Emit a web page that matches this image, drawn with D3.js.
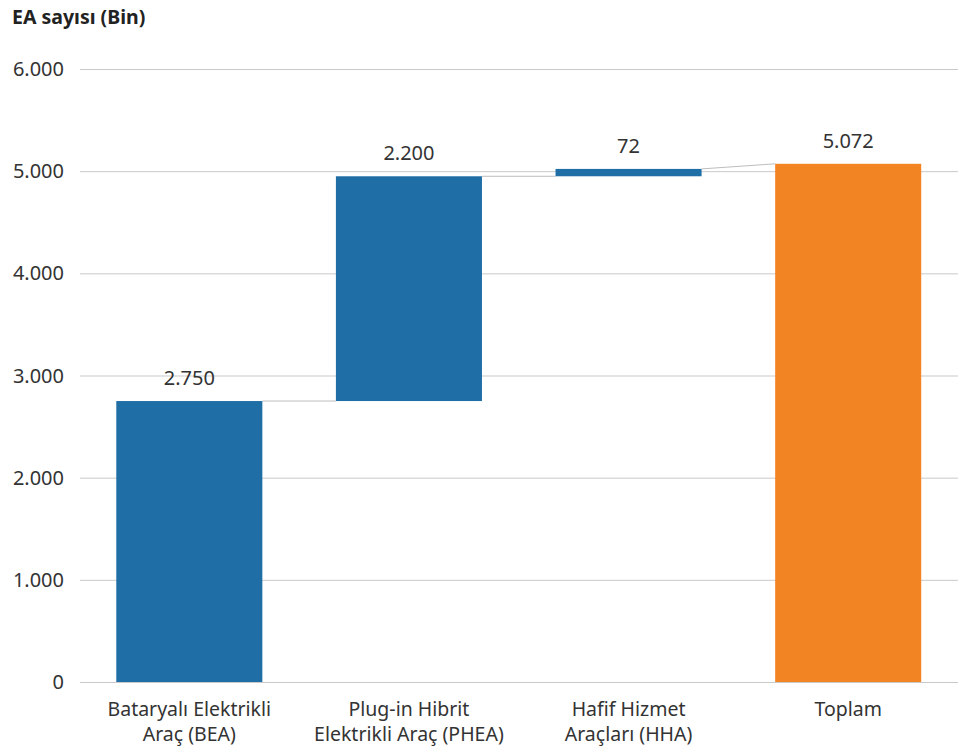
<!DOCTYPE html>
<html><head><meta charset="utf-8">
<script src="https://cdn.jsdelivr.net/npm/d3@7"></script>
<style>body{margin:0;background:#fff}svg{display:block}text{font-family:"Noto Sans","Open Sans",sans-serif}</style>
</head><body><svg id="c" width="963" height="751"></svg>
<script>
const categories = ["Bataryalı Elektrikli\nAraç (BEA)", "Plug-in Hibrit\nElektrikli Araç (PHEA)", "Hafif Hizmet\nAraçları (HHA)", "Toplam"];
const values = [2750, 2200, 72, 5072];
const starts = [0, 2750, 4950, 0];
const ends = [2750, 4950, 5022, 5072];
const isTotal = [false, false, false, true];
const valueLabels = ["2.750", "2.200", "72", "5.072"];
const yTicks = [0, 1000, 2000, 3000, 4000, 5000, 6000];
const tickLabels = ["0", "1.000", "2.000", "3.000", "4.000", "5.000", "6.000"];

const svg = d3.select("#c");
const x = d3.scaleBand().domain(categories).range([79.5, 958]).paddingInner(0.335).paddingOuter(0.1675);
const y = d3.scaleLinear().domain([0, 6000]).range([682, 69]);

svg.append("text").attr("x", 12).attr("y", 24).attr("font-size", 19.5).attr("font-weight", 700).attr("fill", "#222").text("EA sayısı (Bin)");

const g = svg.append("g");
g.selectAll("line.grid").data(yTicks).join("line")
  .attr("x1", 80).attr("x2", 958).attr("y1", d => y(d) + 0.5).attr("y2", d => y(d) + 0.5)
  .attr("stroke", "#c9c9c9").attr("stroke-width", 1);
g.selectAll("text.tick").data(yTicks).join("text")
  .attr("x", 64).attr("y", d => y(d)).attr("dy", "0.35em").attr("text-anchor", "end")
  .attr("font-size", 20).attr("fill", "#333").text((d, i) => tickLabels[i]);

// connectors
for (let i = 0; i < categories.length - 1; i++) {
  g.append("line")
    .attr("x1", x(categories[i]) + x.bandwidth()).attr("x2", x(categories[i + 1]))
    .attr("y1", y(ends[i])).attr("y2", y(isTotal[i + 1] ? ends[i + 1] : starts[i + 1]))
    .attr("stroke", "#bdbdbd").attr("stroke-width", 1);
}

g.selectAll("rect.bar").data(categories).join("rect")
  .attr("x", d => x(d)).attr("width", x.bandwidth())
  .attr("y", (d, i) => y(ends[i])).attr("height", (d, i) => y(starts[i]) - y(ends[i]))
  .attr("fill", (d, i) => isTotal[i] ? "#F38423" : "#1F6EA6");

g.selectAll("text.val").data(categories).join("text")
  .attr("x", d => x(d) + x.bandwidth() / 2).attr("y", (d, i) => y(ends[i]) - 16)
  .attr("text-anchor", "middle").attr("font-size", 20).attr("fill", "#333")
  .text((d, i) => valueLabels[i]);

const lbl = g.selectAll("text.cat").data(categories).join("text")
  .attr("text-anchor", "middle").attr("font-size", 19.5).attr("fill", "#333");
lbl.each(function(d) {
  const t = d3.select(this);
  d.split("\n").forEach((line, k) => {
    t.append("tspan").attr("x", x(d) + x.bandwidth() / 2).attr("y", 716 + k * 24.5).text(line);
  });
});
</script></body></html>
